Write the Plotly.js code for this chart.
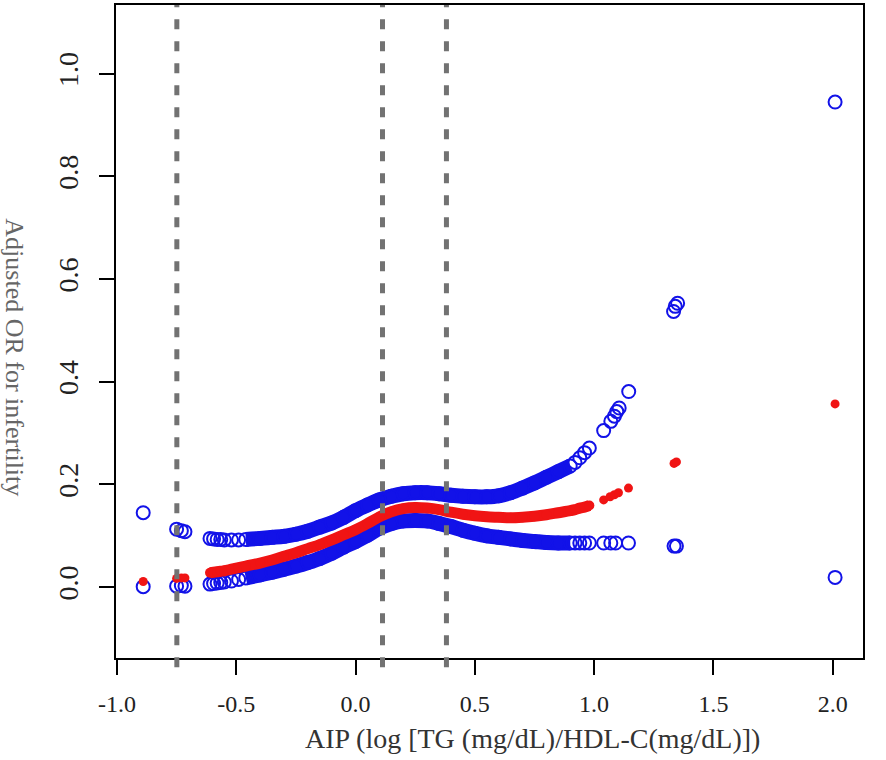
<!DOCTYPE html>
<html>
<head>
<meta charset="utf-8">
<script src="https://cdn.plot.ly/plotly-3.0.1.min.js"></script>
<style>
html,body{margin:0;padding:0;background:#fff;}
#chart{width:886px;height:760px;}
</style>
</head>
<body>
<div id="chart"></div>
<script>
// ---- data ----
const denseX = [-0.61, -0.595, -0.58, -0.565, -0.55, -0.52, -0.49, -0.46, -0.4, -0.35, -0.3, -0.25, -0.2, -0.15, -0.1, -0.05, 0, 0.05, 0.1, 0.15, 0.2, 0.25, 0.3, 0.35, 0.4, 0.45, 0.5, 0.55, 0.6, 0.65, 0.7, 0.75, 0.8, 0.85, 0.9, 0.92, 0.94, 0.96, 0.98];
const denseUpper = [0.095, 0.094, 0.093, 0.093, 0.092, 0.092, 0.092, 0.093, 0.095, 0.097, 0.099, 0.103, 0.109, 0.117, 0.125, 0.136, 0.149, 0.160, 0.170, 0.177, 0.182, 0.184, 0.184, 0.182, 0.179, 0.177, 0.176, 0.176, 0.178, 0.184, 0.193, 0.203, 0.214, 0.225, 0.236, 0.243, 0.252, 0.262, 0.271];
const denseEst = [0.028, 0.029, 0.030, 0.031, 0.032, 0.035, 0.038, 0.041, 0.047, 0.053, 0.060, 0.067, 0.075, 0.083, 0.092, 0.102, 0.112, 0.124, 0.137, 0.147, 0.153, 0.155, 0.154, 0.151, 0.146, 0.142, 0.139, 0.137, 0.136, 0.135, 0.136, 0.138, 0.141, 0.145, 0.149, 0.151, 0.154, 0.156, 0.159];
const denseLower = [0.006, 0.007, 0.008, 0.009, 0.010, 0.012, 0.015, 0.018, 0.024, 0.029, 0.035, 0.041, 0.048, 0.056, 0.066, 0.078, 0.089, 0.101, 0.115, 0.124, 0.129, 0.130, 0.129, 0.124, 0.118, 0.111, 0.105, 0.100, 0.097, 0.094, 0.091, 0.089, 0.087, 0.086, 0.086, 0.086, 0.086, 0.086, 0.086];

const upperSparseX = [-0.89, -0.75, -0.73, -0.715, 1.04, 1.07, 1.085, 1.095, 1.105, 1.145, 1.333, 1.34, 1.35, 2.01];
const upperSparseY = [0.145, 0.113, 0.110, 0.108, 0.305, 0.323, 0.333, 0.342, 0.349, 0.381, 0.537, 0.547, 0.553, 0.945];
const estSparseX = [-0.89, -0.75, -0.73, -0.715, 1.04, 1.067, 1.085, 1.102, 1.144, 1.335, 1.345, 2.01];
const estSparseY = [0.011, 0.017, 0.018, 0.018, 0.170, 0.176, 0.180, 0.184, 0.193, 0.241, 0.244, 0.357];
const lowerSparseX = [-0.89, -0.75, -0.73, -0.715, 1.04, 1.07, 1.09, 1.144, 1.335, 1.345, 2.01];
const lowerSparseY = [0.001, 0.002, 0.003, 0.002, 0.086, 0.086, 0.086, 0.086, 0.080, 0.080, 0.019];

const cutX = [-0.749, 0.113, 0.381];

const xTickVals = [-1.0, -0.5, 0.0, 0.5, 1.0, 1.5, 2.0];
const xTickText = ["-1.0", "-0.5", "0.0", "0.5", "1.0", "1.5", "2.0"];
const yTickVals = [0.0, 0.2, 0.4, 0.6, 0.8, 1.0];
const yTickText = ["0.0", "0.2", "0.4", "0.6", "0.8", "1.0"];

const xTitle = "AIP (log [TG (mg/dL)/HDL-C(mg/dL)])";
const yTitle = "Adjusted OR for infertility";

// ---- styling ----
const BLUE = "#1212E8";
const RED = "#F01414";
const serif = "Liberation Serif, Times New Roman, serif";

function bandPart(xs, ys, lo, hi) {
  const bx = [], by = [];
  xs.forEach((x, i) => { if (x >= lo && x <= hi) { bx.push(x); by.push(ys[i]); } });
  return {x: bx, y: by};
}

const traces = [];
// blue bands (upper & lower) where the circles are packed solid
[denseUpper, denseLower].forEach(ys => {
  const b = bandPart(denseX, ys, -0.465, 0.905);
  traces.push({x: b.x, y: b.y, type: "scatter", mode: "lines",
    line: {color: BLUE, width: 15, shape: "spline"}, hoverinfo: "skip"});
});
const blueMarker = {symbol: "circle-open", size: 13, color: BLUE, line: {width: 2, color: BLUE}};
traces.push({x: denseX, y: denseUpper, type: "scatter", mode: "markers", marker: blueMarker});
traces.push({x: denseX, y: denseLower, type: "scatter", mode: "markers", marker: blueMarker});
traces.push({x: upperSparseX, y: upperSparseY, type: "scatter", mode: "markers", marker: blueMarker});
traces.push({x: lowerSparseX, y: lowerSparseY, type: "scatter", mode: "markers", marker: blueMarker});
// red estimate
traces.push({x: denseX, y: denseEst, type: "scatter", mode: "lines+markers",
  line: {color: RED, width: 11, shape: "spline"},
  marker: {symbol: "circle", size: 10, color: RED}});
traces.push({x: estSparseX, y: estSparseY, type: "scatter", mode: "markers",
  marker: {symbol: "circle", size: 9, color: RED}});

const shapes = cutX.map(c => ({
  type: "line", xref: "x", yref: "paper", x0: c, x1: c, y0: -0.014, y1: 1,
  line: {color: "#727272", width: 5, dash: "10px,12px"}, layer: "above"
}));

const layout = {
  width: 886, height: 760,
  margin: {l: 116, r: 23, t: 5, b: 102},
  paper_bgcolor: "#fff", plot_bgcolor: "#fff",
  showlegend: false,
  font: {family: serif, color: "#222"},
  xaxis: {
    range: [-1.004, 2.127], tickvals: xTickVals, ticktext: xTickText,
    showgrid: false, zeroline: false,
    showline: true, mirror: true, linecolor: "#000", linewidth: 2,
    ticks: "outside", ticklen: 15, tickwidth: 2, tickcolor: "#000",
    ticklabelstandoff: 8,
    tickfont: {family: serif, size: 24, color: "#222"}
  },
  yaxis: {
    range: [-0.138, 1.134], tickvals: yTickVals, ticktext: yTickText,
    showgrid: false, zeroline: false,
    showline: true, mirror: true, linecolor: "#000", linewidth: 2,
    ticks: "outside", ticklen: 15, tickwidth: 2, tickcolor: "#000",
    tickangle: -90, ticklabelstandoff: 10,
    tickfont: {family: serif, size: 28, color: "#222"}
  },
  shapes: shapes,
  annotations: [
    {text: xTitle, xref: "paper", yref: "paper", x: 0.557, y: -0.124,
     xanchor: "center", yanchor: "middle", showarrow: false,
     font: {family: serif, size: 28, color: "#333"}},
    {text: yTitle, xref: "paper", yref: "paper", x: -0.137, y: 0.461,
     xanchor: "center", yanchor: "middle", showarrow: false, textangle: 90,
     font: {family: serif, size: 26, color: "#666"}}
  ]
};

Plotly.newPlot("chart", traces, layout, {displayModeBar: false, staticPlot: true});
</script>
</body>
</html>
